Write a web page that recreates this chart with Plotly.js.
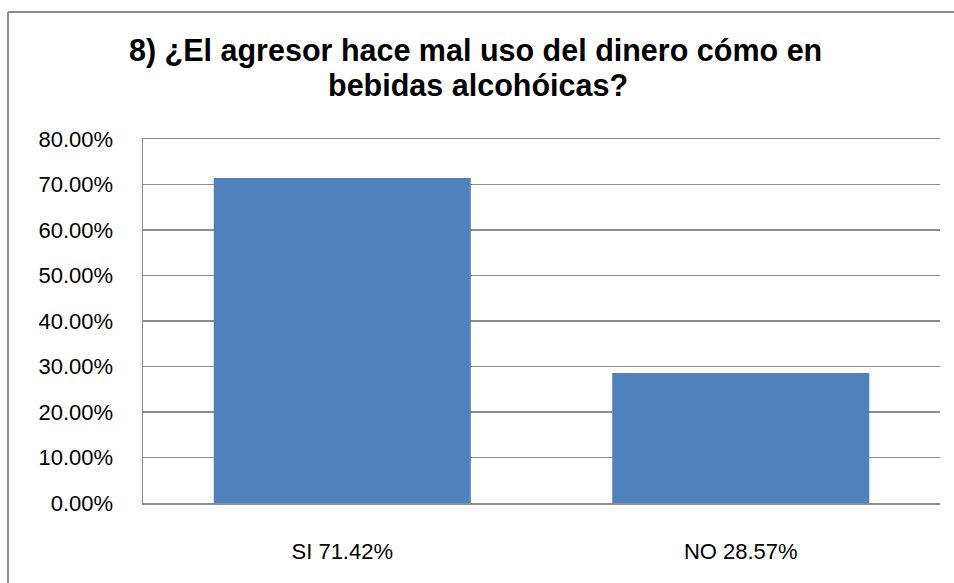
<!DOCTYPE html>
<html>
<head>
<meta charset="utf-8">
<script src="https://cdn.plot.ly/plotly-3.0.1.min.js"></script>
<style>html,body{margin:0;padding:0;background:#fff;}#chart{width:954px;height:583px;}</style>
</head>
<body>
<div id="chart"></div>
<script>
const categories = ["SI 71.42%", "NO 28.57%"];
const values = [0.7142, 0.2857];
const titleLines = ["8) ¿El agresor hace mal uso del dinero cómo en", "bebidas alcohóicas?"];

const trace = {
  type: "bar",
  x: categories,
  y: values,
  marker: {color: "#4F81BD"},
  hoverinfo: "x+y"
};

const H = 364, TOP = 503;
const pyOf = px => (TOP - px) / H;

const layout = {
  width: 954,
  height: 583,
  margin: {l: 143, r: 14, t: 139, b: 80},
  paper_bgcolor: "#fff",
  plot_bgcolor: "#fff",
  showlegend: false,
  bargap: 0.355,
  font: {family: "Liberation Sans, Arial, sans-serif", size: 22, color: "#000"},
  xaxis: {
    showline: true, mirror: true, linecolor: "#8c8c8c", linewidth: 1.5,
    showgrid: false, ticks: "", ticklabelstandoff: 28,
    tickfont: {size: 22, color: "#000"}
  },
  yaxis: {
    range: [0, 0.8], dtick: 0.1, tick0: 0, tickformat: ".2%",
    showline: true, linecolor: "#8c8c8c", linewidth: 1.5,
    showgrid: true, gridcolor: "#8c8c8c", gridwidth: 1.5,
    zeroline: false, ticks: "", ticklabelstandoff: 24,
    tickfont: {size: 22, color: "#000"}
  },
  annotations: [
    {text: "<b>" + titleLines[0] + "</b>", xref: "paper", yref: "paper",
     x: (475 - 143) / 797, y: pyOf(51), xanchor: "center", yanchor: "middle",
     showarrow: false, font: {family: "Liberation Sans, Arial, sans-serif", size: 30.5, color: "#000"}},
    {text: "<b>" + titleLines[1] + "</b>", xref: "paper", yref: "paper",
     x: (478 - 143) / 797, y: pyOf(85), xanchor: "center", yanchor: "middle",
     showarrow: false, font: {family: "Liberation Sans, Arial, sans-serif", size: 30.5, color: "#000"}}
  ],
  shapes: [
    {type: "line", xref: "paper", yref: "paper",
     x0: (8 - 143) / 797, x1: 1.1, y0: pyOf(12), y1: pyOf(12),
     line: {color: "#8a8a8a", width: 2}},
    {type: "line", xref: "paper", yref: "paper",
     x0: (8 - 143) / 797, x1: (8 - 143) / 797, y0: pyOf(12), y1: pyOf(600),
     line: {color: "#8a8a8a", width: 2}}
  ]
};

Plotly.newPlot("chart", [trace], layout, {displayModeBar: false, staticPlot: true});
</script>
</body>
</html>
